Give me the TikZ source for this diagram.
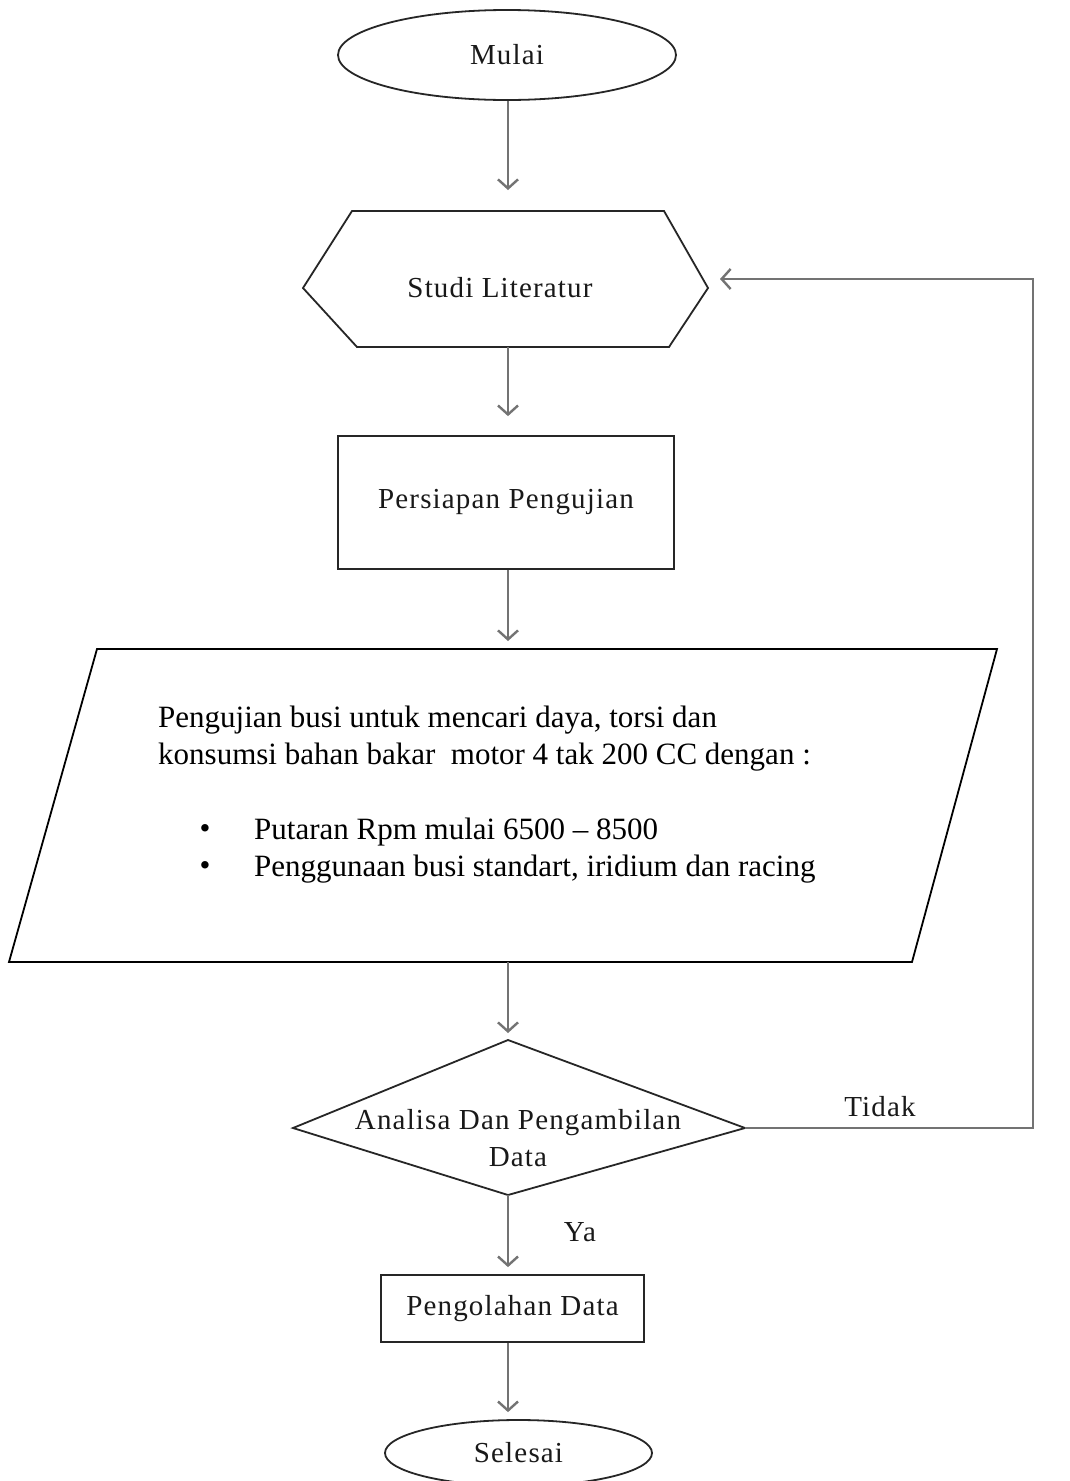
\documentclass[tikz,border=0pt]{standalone}
\usepackage{fontspec}
\setmainfont{Liberation Serif}
\newfontfamily\boxfont[LetterSpace=4]{Liberation Serif}
\usetikzlibrary{shapes.geometric,arrows.meta}
\begin{document}
\begin{tikzpicture}[x=1pt,y=-1pt,
  shapeline/.style={draw=black!85, line width=1.8pt},
  conn/.style={draw=black!55, line width=2.4pt, -{Straight Barb[length=9pt,width=20pt]}},
  flow/.style={font=\boxfont\fontsize{29}{37}\selectfont, text=black!90, inner sep=0pt},
  body/.style={font=\fontsize{31}{37}\selectfont, text=black, anchor=west, inner sep=0pt},
]
\useasboundingbox (0,0) rectangle (1070,1481);
\fill[white] (0,0) rectangle (1070,1481);
\clip (0,0) rectangle (1070,1481);

% Mulai
\node[ellipse, shapeline, minimum width=338pt, minimum height=90pt, flow] (mulai) at (507,55) {Mulai};

% Studi Literatur (hexagon)
\coordinate (hexT) at (508,211);
\coordinate (hexB) at (508,347);
\coordinate (hexR) at (720,279);
\draw[shapeline] (303,288) -- (352,211) -- (664,211) -- (708,288) -- (669,347) -- (357,347) -- cycle;
\node[flow] (studi) at (500,288) {Studi Literatur};

% Persiapan Pengujian
\node[rectangle, shapeline, minimum width=336pt, minimum height=133pt, flow] (persiapan) at (506,502.5) {Persiapan Pengujian};

% Parallelogram
\coordinate (parT) at (508,649);
\coordinate (parB) at (508,962);
\draw[black, line width=1.8pt] (97,649) -- (997,649) -- (912,962) -- (9,962) -- cycle;
\node[body] (l1) at (158,720) {Pengujian busi untuk mencari daya, torsi dan};
\node[body] (l2) at (158,757) {konsumsi bahan bakar\ \ motor 4 tak 200 CC dengan :};
\node[body, anchor=center] (b1) at (205,832) {•};
\node[body] (t1) at (254,832) {Putaran Rpm mulai 6500 – 8500};
\node[body, anchor=center] (b2) at (205,869) {•};
\node[body] (t2) at (254,869) {Penggunaan busi standart, iridium dan racing};

% Decision
\coordinate (dT) at (508,1040);
\coordinate (dB) at (508,1195);
\coordinate (dR) at (745,1128);
\draw[shapeline] (dT) -- (dR) -- (dB) -- (293,1128) -- cycle;
\node[flow, align=center] (analisa) at (518,1138) {Analisa Dan Pengambilan\\Data};

% Pengolahan Data
\node[rectangle, shapeline, minimum width=263pt, minimum height=67pt, flow] (olah) at (512.5,1308.5) {Pengolahan Data};

% Selesai
\node[ellipse, shapeline, minimum width=267pt, minimum height=66pt, flow] (selesai) at (518.5,1453) {Selesai};

% Labels
\node[flow] (tidak) at (880,1107) {Tidak};
\node[flow] (ya) at (580,1232) {Ya};

% Connectors
\draw[conn, shorten >=21pt] (mulai.south -| hexT) -- (hexT);
\draw[conn, shorten >=19pt] (hexB) -- (persiapan.north -| hexB);
\draw[conn, shorten >=8pt] (persiapan.south -| parT) -- (parT);
\draw[conn, shorten >=7pt] (parB) -- (dT);
\draw[conn, shorten >=7pt] (dB) -- (olah.north -| dB);
\draw[conn, shorten >=7pt] (olah.south -| dB) -- (selesai.north -| dB);
\coordinate (loopB) at (1033,1128);
\coordinate (loopT) at (1033,279);
\draw[conn] (dR) -- (loopB) -- (loopT) -- (hexR);
\end{tikzpicture}
\end{document}
